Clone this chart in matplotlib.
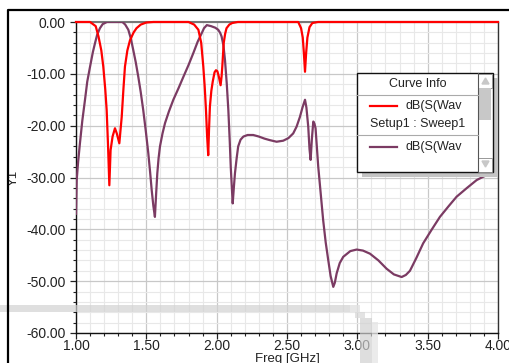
import numpy as np
import matplotlib
matplotlib.use("Agg")
import matplotlib.pyplot as plt
from matplotlib.patches import Rectangle, Polygon
from matplotlib.ticker import MultipleLocator, FormatStrFormatter

plt.rcParams['font.family'] = ['Liberation Sans', 'DejaVu Sans']

# S11 (red)
f_red = [1.00, 1.10, 1.14, 1.16, 1.18, 1.194, 1.208, 1.218, 1.228, 1.237, 1.246,
         1.26, 1.277, 1.29, 1.308, 1.325, 1.337, 1.348, 1.365, 1.384, 1.41, 1.43,
         1.46, 1.50, 1.55, 1.80, 1.84, 1.87, 1.89, 1.905, 1.915, 1.924, 1.932,
         1.94, 1.946, 1.952, 1.962, 1.972, 1.985, 1.995, 2.005, 2.015, 2.028,
         2.035, 2.04, 2.05, 2.06, 2.07, 2.09, 2.11, 2.15, 2.58, 2.60, 2.612,
         2.62, 2.628, 2.636, 2.645, 2.66, 2.68, 2.72, 4.00]
db_red = [0, 0, -0.8, -2.8, -5.5, -8.6, -13, -17, -24, -31.5, -24.7,
          -22.1, -20.5, -21.5, -23.4, -18.3, -13, -8.6, -5.5, -3.5, -2.0, -1.2,
          -0.5, -0.1, 0, 0, -0.5, -1.5, -4, -8.6, -12.5, -17, -22,
          -25.7, -20.5, -16.3, -13.3, -11.5, -9.7, -9.3, -9.5, -10.5, -12.2,
          -10.5, -8.6, -4.1, -2.3, -1.2, -0.5, -0.2, 0, 0, -1.2, -3,
          -6, -9.6, -6, -3, -1.0, -0.2, 0, 0]

# S21 (purple)
f_pur = [1.00, 1.005, 1.015, 1.028, 1.045, 1.064, 1.08, 1.10, 1.12, 1.135, 1.15,
         1.17, 1.19, 1.22, 1.33, 1.35, 1.372, 1.39, 1.407, 1.425, 1.443, 1.46,
         1.478, 1.496, 1.514, 1.527, 1.538, 1.55, 1.561, 1.57, 1.578, 1.587,
         1.597, 1.615, 1.633, 1.66, 1.692, 1.73, 1.763, 1.80, 1.834, 1.865,
         1.893, 1.91, 1.93, 1.96, 1.99, 2.011, 2.025, 2.035, 2.048, 2.059,
         2.072, 2.083, 2.093, 2.10, 2.108, 2.114, 2.122, 2.13, 2.142, 2.153,
         2.17, 2.19, 2.22, 2.26, 2.30, 2.34, 2.379, 2.426, 2.473, 2.51, 2.544,
         2.568, 2.592, 2.61, 2.628, 2.638, 2.651, 2.66, 2.668, 2.677, 2.687,
         2.695, 2.703, 2.712, 2.722, 2.74, 2.757, 2.775, 2.793, 2.81, 2.829,
         2.84, 2.853, 2.875, 2.90, 2.95, 2.995, 3.04, 3.09, 3.15, 3.208, 3.26,
         3.315, 3.345, 3.374, 3.42, 3.468, 3.53, 3.587, 3.65, 3.706, 3.78,
         3.848, 3.92, 4.00]
db_pur = [-37, -30.5, -27, -23.4, -19, -15, -11.5, -8.6, -5.8, -4.1, -2.5,
          -1.2, -0.4, 0, 0, -0.5, -1.5, -3.2, -5.4, -7.8, -10.6, -13.5,
          -17, -21, -25.3, -29, -32.4, -35.5, -37.6, -33, -29.2, -26.3,
          -24, -21.5, -19.5, -17.3, -15, -12.7, -10.6, -8.3, -6, -3.8,
          -2.2, -1.2, -0.6, -0.8, -1.1, -1.5, -2.1, -2.8, -4.5, -7.3,
          -12, -17, -23, -27.9, -32, -35, -32, -29.2, -26.3, -24,
          -22.7, -22.1, -21.8, -21.8, -22.1, -22.5, -22.8, -23.1, -22.9, -22.4, -21.5,
          -20.2, -18.3, -16.5, -15, -16.5, -20.2, -24.5, -26.6, -22.5, -19.2,
          -19.6, -20.5, -24, -27.9, -33.2, -38.2, -42.5, -45.9, -49, -51.1,
          -50.3, -48.5, -46.5, -45.3, -44.2, -43.9, -44.1, -44.7, -46, -47.6, -48.7,
          -49.2, -48.8, -48, -45.5, -42.7, -40, -37.6, -35.5, -33.7, -32,
          -30.5, -29.5, -28.7]

legend_title = "Curve Info"
legend_labels = ["dB(S(Wav", "dB(S(Wav"]
legend_sub = "Setup1 : Sweep1"

RED = "#ff0000"
PUR = "#7b3b63"
W, H = 510, 363

fig = plt.figure(figsize=(W / 100, H / 100), dpi=100)
ax = fig.add_axes([76 / W, 1 - 333 / H, (498 - 76) / W, (333 - 22) / H])

ax.plot(f_red, db_red, color=RED, lw=1.6, zorder=4, clip_on=False)
ax.plot(f_pur, db_pur, color=PUR, lw=1.6, zorder=3)

ax.set_xlim(1, 4)
ax.set_ylim(-60, 0)
ax.xaxis.set_major_locator(MultipleLocator(0.5))
ax.xaxis.set_minor_locator(MultipleLocator(0.1))
ax.yaxis.set_major_locator(MultipleLocator(10))
ax.yaxis.set_minor_locator(MultipleLocator(2))
ax.xaxis.set_major_formatter(FormatStrFormatter("%.2f"))
ax.yaxis.set_major_formatter(FormatStrFormatter("%.2f"))
ax.grid(which="minor", color="#e8e8e8", lw=0.8)
ax.grid(which="major", color="#c8c8c8", lw=0.9)
ax.set_axisbelow(True)

ax.tick_params(axis="both", which="major", labelsize=10, colors="#222222",
               length=4.5, width=0.9)
ax.tick_params(axis="both", which="minor", length=2.5, width=0.8, color="#222222")
ax.tick_params(axis="x", which="both", pad=0)
ax.tick_params(axis="y", which="major", pad=3)

for s in ["left", "bottom"]:
    ax.spines[s].set_color("#111111")
    ax.spines[s].set_linewidth(1.0)
ax.spines["right"].set_color("#333333")
ax.spines["right"].set_linewidth(1.0)
ax.spines["top"].set_color("#777777")
ax.spines["top"].set_linewidth(1.5)

ax.set_xlabel("Freq [GHz]", fontsize=9.5, color="#222222", labelpad=0)
ax.set_ylabel("Y1", fontsize=9.5, color="#222222")
ax.yaxis.set_label_coords(-(76 - 20) / (498 - 76), 0.5)

# overlay in pixel coords
ov = fig.add_axes([0, 0, 1, 1], zorder=10)
ov.set_xlim(0, W)
ov.set_ylim(H, 0)
ov.axis("off")
ov.patch.set_alpha(0)

# outer window frame
ov.plot([8, 8, W], [H, 10, 10], color="black", lw=1.6, solid_capstyle="butt")

# legend box with shadow
ov.add_patch(Rectangle((362, 78), 136, 99, color="#c4c4c4", lw=0))
ov.add_patch(Rectangle((357, 73), 136, 99, facecolor="white", edgecolor="#111111", lw=1.0))
ov.plot([478, 478], [73, 172], color="#555555", lw=0.8)
ov.add_patch(Rectangle((478.5, 73.5), 14, 14, facecolor="white", edgecolor="#888888", lw=0.6))
ov.add_patch(Rectangle((478.5, 157.5), 14, 14, facecolor="white", edgecolor="#888888", lw=0.6))
ov.add_patch(Polygon([[482, 84], [489, 84], [485.5, 78]], color="#c8c8c8"))
ov.add_patch(Polygon([[482, 161], [489, 161], [485.5, 167]], color="#c8c8c8"))
ov.add_patch(Rectangle((479.5, 88), 12, 32, color="#c8c8c8", lw=0))
ov.plot([357, 478], [95, 95], color="#aaaaaa", lw=0.8)
ov.plot([357, 478], [135, 135], color="#aaaaaa", lw=0.8)
ov.text(418, 84, legend_title, fontsize=9, ha="center", va="center", color="#222222")
ov.plot([370, 397], [106, 106], color=RED, lw=1.6)
ov.text(406, 106, legend_labels[0], fontsize=9, ha="left", va="center", color="#222222")
ov.text(418, 124, legend_sub, fontsize=9, ha="center", va="center", color="#222222")
ov.plot([370, 397], [147, 147], color=PUR, lw=1.6)
ov.text(406, 147, legend_labels[1], fontsize=9, ha="left", va="center", color="#222222")

# window shadow artifact at the bottom
ov.add_patch(Rectangle((0, 305), 350, 7, color="#d2d2d2", alpha=0.7, lw=0))
ov.add_patch(Rectangle((350, 305), 10, 7, color="#e2e2e2", alpha=0.8, lw=0))
ov.add_patch(Rectangle((355, 312), 10, 6, color="#d8d8d8", alpha=0.7, lw=0))
ov.add_patch(Rectangle((360, 318), 12, 45, color="#d0d0d0", alpha=0.7, lw=0))
ov.add_patch(Rectangle((372, 322), 6, 41, color="#e6e6e6", alpha=0.8, lw=0))

fig.savefig("out.png", dpi=100)
